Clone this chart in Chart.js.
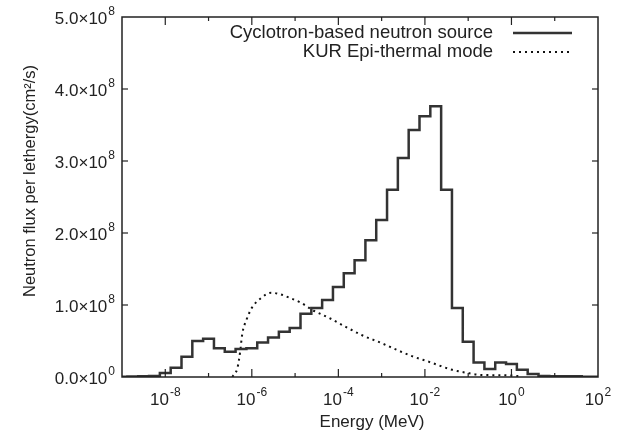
<!DOCTYPE html>
<html>
<head>
<meta charset="utf-8">
<script src="https://cdn.jsdelivr.net/npm/chart.js@4.4.1/dist/chart.umd.min.js"></script>
<style>
  html, body { margin: 0; padding: 0; background: #fff; }
  canvas { display: block; }
</style>
</head>
<body>
<canvas id="flux-chart" width="624" height="443"></canvas>
<script>
// Cyclotron-based source: histogram bins at quarter decades (log10 of energy in MeV)
const cycLogE = [-9, -8.75, -8.5, -8.25, -8, -7.75, -7.5, -7.25, -7, -6.75, -6.5, -6.25,
  -6, -5.75, -5.5, -5.25, -5, -4.75, -4.5, -4.25, -4, -3.75, -3.5, -3.25,
  -3, -2.75, -2.5, -2.25, -2, -1.75, -1.5, -1.25, -1, -0.75, -0.5, -0.25,
  0, 0.25, 0.5, 0.75, 1, 1.25, 1.5, 1.75, 2];
// flux per lethargy, units of 1e8 /cm2/s
const cycFlux = [0.005, 0.007, 0.01, 0.015, 0.055, 0.13, 0.28, 0.5, 0.53, 0.4, 0.35, 0.39,
  0.4, 0.48, 0.55, 0.63, 0.68, 0.88, 0.96, 1.07, 1.25, 1.44, 1.62, 1.9,
  2.18, 2.6, 3.04, 3.43, 3.62, 3.76, 2.6, 0.96, 0.49, 0.2, 0.11, 0.2,
  0.18, 0.1, 0.04, 0.015, 0.012, 0.012, 0.01, 0.005, 0.004];

// KUR epi-thermal mode
const kurLogE = [-6.45, -6.33, -6.27, -6.22, -6.12, -6.0, -5.8, -5.55, -5.35, -5.13, -4.86, -4.6,
  -4.21, -3.81, -3.45, -3.0, -2.66, -2.3, -1.9, -1.37, -1.05, -0.75, -0.3, 0.0, 0.2];
const kurFlux = [0, 0.13, 0.35, 0.6, 0.8, 0.96, 1.09, 1.17, 1.15, 1.1, 1.03, 0.93,
  0.82, 0.69, 0.58, 0.47, 0.38, 0.29, 0.21, 0.1, 0.06, 0.03, 0.025, 0.02, 0.01];

const xTickExp = [-9, -8, -7, -6, -5, -4, -3, -2, -1, 0, 1, 2];
const xLabelExp = [-8, -6, -4, -2, 0, 2];
const yTickVals = [0, 1, 2, 3, 4, 5];

const seriesNames = ['Cyclotron-based neutron source', 'KUR Epi-thermal mode'];

const FONT = "'Liberation Sans', Arial, sans-serif";
const INK = '#222';

// text with a raised exponent, e.g. 10^-8
function drawPow(c, base, exp, x, y, align) {
  c.font = '17px ' + FONT;
  const wb = c.measureText(base).width;
  c.font = '12px ' + FONT;
  const we = c.measureText(exp).width;
  const w = wb + 1 + we;
  let x0 = x;
  if (align === 'center') x0 = x - w / 2;
  if (align === 'right') x0 = x - w;
  c.textAlign = 'left';
  c.textBaseline = 'middle';
  c.font = '17px ' + FONT;
  c.fillText(base, x0, y);
  c.font = '12px ' + FONT;
  c.fillText(exp, x0 + wb + 1, y - 7);
}

// frame, inward ticks, tick labels, legend and axis titles
const decorations = {
  id: 'decorations',
  afterDatasetsDraw(chart) {
    const { ctx, chartArea: a, scales: { x, y } } = chart;
    ctx.save();
    ctx.strokeStyle = INK;
    ctx.lineWidth = 1.5;
    ctx.strokeRect(a.left, a.top, a.right - a.left, a.bottom - a.top);

    ctx.lineWidth = 1.2;
    function seg(x1, y1, x2, y2) {
      ctx.beginPath();
      ctx.moveTo(x1, y1);
      ctx.lineTo(x2, y2);
      ctx.stroke();
    }
    xTickExp.forEach(e => {
      if (e <= -9 || e >= 2) return;
      const px = x.getPixelForValue(Math.pow(10, e));
      const len = (e % 2 === 0) ? 8 : 4;
      seg(px, a.bottom, px, a.bottom - len);
      seg(px, a.top, px, a.top + len);
    });
    yTickVals.forEach(v => {
      if (v === 0 || v === 5) return;
      const py = y.getPixelForValue(v);
      seg(a.left, py, a.left + 6, py);
      seg(a.right, py, a.right - 6, py);
    });

    // tick labels
    ctx.fillStyle = INK;
    xLabelExp.forEach(e => {
      const px = x.getPixelForValue(Math.pow(10, e));
      drawPow(ctx, '10', String(e), px, a.bottom + 23, 'center');
    });
    yTickVals.forEach(v => {
      const py = y.getPixelForValue(v);
      drawPow(ctx, v.toFixed(1) + '\u00D710', v === 0 ? '0' : '8', a.left - 7, py + 2, 'right');
    });

    // legend, text right-aligned with the sample on the right
    ctx.font = '18.5px ' + FONT;
    ctx.textAlign = 'right';
    ctx.textBaseline = 'middle';
    chart.data.datasets.forEach((ds, i) => {
      const ly = 33 + i * 19;
      ctx.fillText(ds.label, 493, ly);
      ctx.save();
      ctx.strokeStyle = ds.borderColor;
      ctx.lineWidth = ds.borderWidth;
      ctx.setLineDash(ds.borderDash || []);
      seg(513, ly, 572, ly);
      ctx.restore();
    });

    // axis titles
    ctx.textAlign = 'center';
    ctx.font = '17px ' + FONT;
    ctx.fillText('Energy (MeV)', 372, 422);
    ctx.font = '16.5px ' + FONT;
    ctx.translate(30, 181);
    ctx.rotate(-Math.PI / 2);
    ctx.fillText('Neutron flux per lethergy(cm\u00B2/s)', 0, 0);
    ctx.restore();
  }
};

const ctx = document.getElementById('flux-chart').getContext('2d');
const fluxChart = new Chart(ctx, {
  type: 'line',
  data: {
    datasets: [{
      label: seriesNames[0],
      data: cycLogE.map((e, i) => ({ x: Math.pow(10, e), y: cycFlux[i] })),
      stepped: 'middle',
      borderColor: '#333',
      borderWidth: 2.5,
      pointRadius: 0,
      fill: false
    }, {
      label: seriesNames[1],
      data: kurLogE.map((e, i) => ({ x: Math.pow(10, e), y: kurFlux[i] })),
      borderColor: '#111',
      borderWidth: 2,
      borderDash: [2, 4],
      cubicInterpolationMode: 'monotone',
      pointRadius: 0,
      fill: false
    }]
  },
  options: {
    responsive: false,
    animation: false,
    devicePixelRatio: 1,
    layout: { padding: { top: 17, right: 26, left: 0, bottom: 0 } },
    plugins: {
      legend: { display: false },
      tooltip: { enabled: false }
    },
    scales: {
      x: {
        type: 'logarithmic',
        min: 1e-9,
        max: 100,
        afterBuildTicks: scale => {
          scale.ticks = xTickExp.map(e => ({ value: Math.pow(10, e) }));
        },
        afterFit: scale => { scale.height = 66; },
        ticks: { display: false },
        grid: { display: false },
        border: { display: false }
      },
      y: {
        min: 0,
        max: 5,
        afterBuildTicks: scale => {
          scale.ticks = yTickVals.map(v => ({ value: v }));
        },
        afterFit: scale => { scale.width = 122; },
        ticks: { display: false },
        grid: { display: false },
        border: { display: false }
      }
    }
  },
  plugins: [decorations]
});
</script>
</body>
</html>
